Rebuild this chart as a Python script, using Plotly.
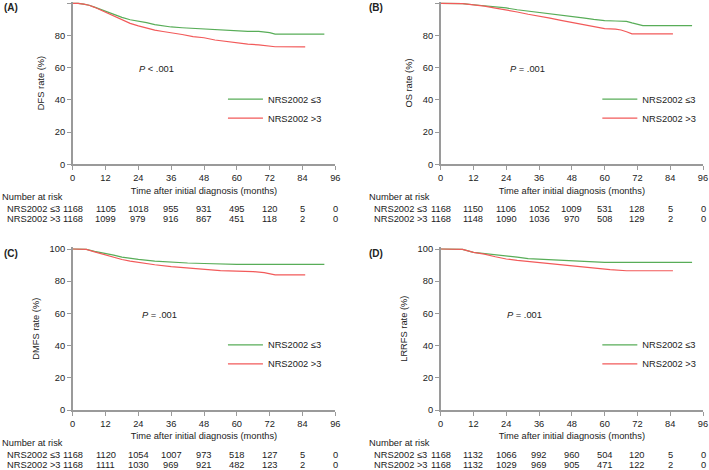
import plotly.graph_objects as go

W, H = 709, 470

time_ticks = [0, 12, 24, 36, 48, 60, 72, 84, 96]
y_ticks = [0, 20, 40, 60, 80, 100]
group_labels = ["NRS2002 ≤3", "NRS2002 >3"]
panel_tags = ["(A)", "(B)", "(C)", "(D)"]
y_titles = ["DFS rate (%)", "OS rate (%)", "DMFS rate (%)", "LRRFS rate (%)"]
p_texts = ["<i>P</i> < .001", "<i>P</i> = .001", "<i>P</i> = .001", "<i>P</i> = .001"]

# (A) DFS
dfs_low_t = [0, 2, 4, 6, 8, 10, 12, 15, 18, 21, 24, 27, 30, 33, 36, 40, 44, 48, 52, 56, 60, 64, 68, 70, 72, 74, 92]
dfs_low_s = [100, 100, 99.5, 98.8, 97.6, 96.3, 95, 93, 91.3, 89.8, 89, 88, 86.8, 85.9, 85.3, 84.8, 84.4, 84, 83.4, 83, 82.7, 82.6, 82.5, 82.3, 81.8, 80.9, 80.8]
dfs_high_t = [0, 2, 4, 6, 8, 10, 12, 15, 18, 21, 24, 27, 30, 33, 36, 40, 44, 48, 52, 56, 60, 64, 68, 72, 74, 85]
dfs_high_s = [100, 100, 99.5, 98.8, 97.5, 96, 94.5, 92, 89.5, 87.5, 86, 84.5, 83.3, 82.5, 81.8, 80.6, 79.3, 78.6, 77.2, 76.2, 75.3, 74.6, 74.2, 73.6, 73.0, 72.9]

# (B) OS
os_low_t = [0, 8, 12, 16, 20, 24, 28, 32, 36, 40, 44, 48, 52, 56, 60, 64, 68, 70, 72, 74, 92]
os_low_s = [100, 99.8, 99.1, 98.5, 97.8, 97.1, 96, 95.2, 94.2, 93.3, 92.7, 92.1, 91, 90, 89.2, 89, 88.8, 87.8, 87, 86.1, 86.1]
os_high_t = [0, 8, 12, 16, 20, 24, 28, 32, 36, 40, 44, 48, 52, 56, 60, 64, 66, 68, 70, 85]
os_high_s = [100, 99.8, 99, 98.3, 97, 95.9, 94.6, 93.2, 92.1, 90.8, 89.4, 88.2, 87, 85.6, 84.3, 84, 83.4, 82.3, 81, 81]

# (C) DMFS
dmfs_low_t = [0, 5, 8, 12, 15, 18, 21, 24, 30, 36, 42, 48, 54, 60, 92]
dmfs_low_s = [100, 99.8, 98.5, 97.3, 96.2, 95, 94.2, 93.6, 92.5, 91.7, 91.3, 91.0, 90.7, 90.4, 90.4]
dmfs_high_t = [0, 5, 8, 12, 15, 18, 21, 24, 30, 36, 42, 48, 54, 60, 66, 70, 72, 74, 85]
dmfs_high_s = [100, 99.8, 98.2, 96.3, 94.8, 93.5, 92.5, 91.7, 90.2, 89, 88.2, 87.4, 86.6, 86.3, 86, 85.3, 84.8, 83.9, 83.9]

# (D) LRRFS
lrrfs_low_t = [0, 8, 12, 16, 20, 24, 28, 32, 36, 42, 48, 54, 58, 60, 92]
lrrfs_low_s = [100, 99.8, 97.9, 97.2, 96.4, 95.9, 95, 94, 93.7, 93.2, 92.8, 92.4, 92.2, 91.7, 91.7]
lrrfs_high_t = [0, 8, 12, 16, 20, 24, 28, 32, 36, 42, 48, 54, 58, 62, 68, 85]
lrrfs_high_s = [100, 99.8, 97.9, 96.8, 95.2, 93.8, 92.9, 92.2, 91.6, 90.4, 89.6, 88.5, 87.8, 87.2, 86.5, 86.5]

# Number at risk
dfs_risk_low = [1168, 1105, 1018, 955, 931, 495, 120, 5, 0]
dfs_risk_high = [1168, 1099, 979, 916, 867, 451, 118, 2, 0]
os_risk_low = [1168, 1150, 1106, 1052, 1009, 531, 128, 5, 0]
os_risk_high = [1168, 1148, 1090, 1036, 970, 508, 129, 2, 0]
dmfs_risk_low = [1168, 1120, 1054, 1007, 973, 518, 127, 5, 0]
dmfs_risk_high = [1168, 1111, 1030, 969, 921, 482, 123, 2, 0]
lrrfs_risk_low = [1168, 1132, 1066, 992, 960, 504, 120, 5, 0]
lrrfs_risk_high = [1168, 1132, 1029, 969, 905, 471, 122, 2, 0]

curves = [
    ((dfs_low_t, dfs_low_s), (dfs_high_t, dfs_high_s)),
    ((os_low_t, os_low_s), (os_high_t, os_high_s)),
    ((dmfs_low_t, dmfs_low_s), (dmfs_high_t, dmfs_high_s)),
    ((lrrfs_low_t, lrrfs_low_s), (lrrfs_high_t, lrrfs_high_s)),
]
risks = [
    (dfs_risk_low, dfs_risk_high),
    (os_risk_low, os_risk_high),
    (dmfs_risk_low, dmfs_risk_high),
    (lrrfs_risk_low, lrrfs_risk_high),
]

GREEN = "#58ad58"
RED = "#f25a5a"
AXIS = "#9a9a9a"
TXT = "#222222"
FONT = "Liberation Sans, Arial, sans-serif"
FS = 9.3

# panel geometry in pixels: (x0, x96, y_bottom)
geo = [(72.7, 335.3, 164.3), (440.7, 703.0, 164.3), (72.7, 335.3, 410.0), (440.7, 703.0, 410.0)]
p_pos_x = [30.7, 31.8, 31.7, 30.7]
PXU = 1.61  # px per % unit
YMAX = 101

def px_x(p):
    return p / W

def px_y(p):
    return 1 - p / H

fig = go.Figure()
annotations = []
layout_axes = {}
legends = {}

for i in range(4):
    x0p, x1p, ybp = geo[i]
    ytp = ybp - YMAX * PXU
    xa = "x" if i == 0 else f"x{i+1}"
    ya = "y" if i == 0 else f"y{i+1}"
    lg = "legend" if i == 0 else f"legend{i+1}"
    for j, (t, s) in enumerate(curves[i]):
        fig.add_trace(go.Scatter(
            x=t, y=s, mode="lines", name=group_labels[j],
            line=dict(color=GREEN if j == 0 else RED, width=1.2),
            xaxis=xa, yaxis=ya, legend=lg, showlegend=True,
        ))
    xkey = "xaxis" if i == 0 else f"xaxis{i+1}"
    ykey = "yaxis" if i == 0 else f"yaxis{i+1}"
    layout_axes[xkey] = dict(
        domain=[px_x(x0p), px_x(x1p)], anchor=ya, range=[0, 96], automargin=False,
        ticklabeloverflow="allow",
        tickvals=time_ticks, ticks="outside", ticklen=4, tickcolor=AXIS, tickwidth=1,
        showline=True, linecolor=AXIS, linewidth=1.5, showgrid=False, zeroline=False,
        tickfont=dict(size=FS, color=TXT, family=FONT),
        title=dict(text="Time after initial diagnosis (months)", font=dict(size=FS, color=TXT, family=FONT), standoff=5),
        fixedrange=True,
    )
    layout_axes[ykey] = dict(
        domain=[px_y(ybp), px_y(ytp)], anchor=xa, range=[0, YMAX], automargin=False,
        tickvals=y_ticks, ticks="outside", ticklen=4, tickcolor=AXIS, tickwidth=1,
        showline=True, linecolor=AXIS, linewidth=1.5, showgrid=False, zeroline=False,
        tickfont=dict(size=FS, color=TXT, family=FONT),
        title=dict(text=y_titles[i], font=dict(size=FS, color=TXT, family=FONT), standoff=8),
        fixedrange=True,
    )
    # legend
    leg_left = x0p + (x1p - x0p) * (0.595 if i % 2 == 0 else 0.62)
    legends[lg] = dict(
        x=px_x(leg_left - 6), y=px_y(ybp - 34.6 * PXU), xanchor="left", yanchor="middle",
        bgcolor="rgba(0,0,0,0)", borderwidth=0, font=dict(size=FS, color=TXT, family=FONT),
        tracegroupgap=0, itemwidth=35,
    )
    # P value
    annotations.append(dict(
        x=p_pos_x[i], y=59, xref=xa, yref=ya, text=p_texts[i], showarrow=False,
        font=dict(size=FS, color=TXT, family=FONT),
    ))
    # panel tag
    annotations.append(dict(
        x=px_x(2 if i % 2 == 0 else 367), y=px_y(ybp - 157), xref="paper", yref="paper",
        text=f"<b>{panel_tags[i]}</b>", showarrow=False, xanchor="left", yanchor="middle",
        font=dict(size=10, color=TXT, family=FONT),
    ))
    # number at risk table
    lbl_x = 0 if i % 2 == 0 else 367
    annotations.append(dict(
        x=px_x(lbl_x), y=px_y(ybp + 33), xref="paper", yref="paper", text="Number at risk",
        showarrow=False, xanchor="left", yanchor="middle", font=dict(size=FS, color=TXT, family=FONT),
    ))
    for j, row in enumerate(risks[i]):
        yy = px_y(ybp + (45 if j == 0 else 55))
        annotations.append(dict(
            x=px_x(lbl_x + 4.5), y=yy, xref="paper", yref="paper", text=group_labels[j],
            showarrow=False, xanchor="left", yanchor="middle", font=dict(size=FS, color=TXT, family=FONT),
        ))
        for tv, n in zip(time_ticks, row):
            annotations.append(dict(
                x=tv, y=yy, xref=xa, yref="paper", text=str(n), showarrow=False,
                xanchor="center", yanchor="middle", font=dict(size=FS, color=TXT, family=FONT),
            ))

fig.update_layout(
    width=W, height=H, margin=dict(l=0, r=0, t=0, b=0),
    paper_bgcolor="white", plot_bgcolor="white",
    font=dict(family=FONT, size=FS, color=TXT),
    annotations=annotations, **layout_axes, **legends,
)

fig.write_html(
    "out.html",
    config={"displayModeBar": False},
    post_script="document.body.style.margin='0';document.body.style.overflow='hidden';",
)
